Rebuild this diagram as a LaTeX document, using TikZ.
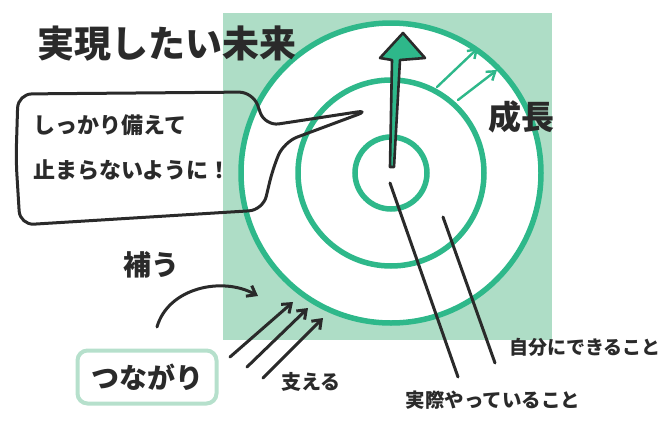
\documentclass[tikz,border=0pt]{standalone}
\usepackage{fontspec}
\newfontfamily\jp{Noto Sans CJK JP}
\usetikzlibrary{arrows.meta}
\definecolor{mint}{HTML}{AEDDC6}
\definecolor{ring}{HTML}{2EB88A}
\definecolor{ink}{HTML}{2A2A2A}
\definecolor{boxg}{HTML}{B6E0CC}
\tikzset{
  ringline/.style={draw=ring, line width=5.5pt},
  inkline/.style={draw=ink, line width=3pt, line cap=round, line join=round},
  barb/.style={inkline, -{Straight Barb[length=8pt, width=12pt]}},
  greenarrow/.style={draw=ring, line width=2.4pt, line cap=round, -{Straight Barb[length=8pt, width=11pt]}},
  lbl/.style={text=ink, inner sep=0pt},
}
\begin{document}
\begin{tikzpicture}[x=1pt, y=-1pt]
\useasboundingbox (0,0) rectangle (662,421);
% green square
\fill[mint] (223,13) rectangle (552,340);
% circles
\coordinate (c) at (391,173);
\fill[white] (c) circle[radius=150pt];
\draw[ringline] (c) circle[radius=150pt];
\draw[ringline] (c) circle[radius=93pt];
\draw[ringline] (c) circle[radius=36pt];

% title
\node[lbl, font=\jp\bfseries\fontsize{37}{40}\selectfont] (title) at (167,44) {実現したい未来};

% speech bubble
\draw[inkline, rounded corners=14pt]
  (16,160) -- (18,94) -- (253,92) -- (265,126) -- (370,110) -- (284,142)
  -- (273,168) -- (263,210) -- (20,225) -- cycle;
\node[lbl, anchor=west, font=\jp\bfseries\fontsize{22}{24}\selectfont] (b1) at (33,125) {しっかり備えて};
\node[lbl, anchor=west, font=\jp\bfseries\fontsize{22}{24}\selectfont] (b2) at (33,170) {止まらないように！};

% main arrow
\filldraw[fill=ring, draw=ink, line width=2.6pt, line join=round]
  (390,167) -- (392,60) -- (380,58) -- (403,33) -- (425,58) -- (400,60) -- (394,167) -- cycle;

% growth arrows
\coordinate (g1s) at (437,87);
\coordinate (g1e) at (478,48);
\coordinate (g2s) at (458,100);
\coordinate (g2e) at (497,70);
\draw[greenarrow] (g1s) -- (g1e);
\draw[greenarrow] (g2s) -- (g2e);
\node[lbl, font=\jp\bfseries\fontsize{33}{35}\selectfont] (grow) at (521,117) {成長};

% labels with lines
\node[lbl, font=\jp\bfseries\fontsize{19.5}{21}\selectfont] (jissai) at (493,400) {実際やっていること};
\node[lbl, font=\jp\bfseries\fontsize{19}{21}\selectfont] (jibun) at (585,347) {自分にできること};
\coordinate (l1s) at (390,183);
\coordinate (l1e) at (458,377);
\coordinate (l2s) at (443,217);
\coordinate (l2e) at (495,363);
\draw[inkline] (l1s) -- (l1e);
\draw[inkline] (l2s) -- (l2e);

% tsunagari
\node[lbl, draw=boxg, line width=4pt, rounded corners=10pt, minimum width=139pt, minimum height=53pt,
  font=\jp\bfseries\fontsize{28}{30}\selectfont] (tsuna) at (147,377) {つながり};
\node[lbl, font=\jp\bfseries\fontsize{28}{30}\selectfont] (oginau) at (151,265) {補う};
\node[lbl, font=\jp\bfseries\fontsize{20}{22}\selectfont] (sasaeru) at (311,382) {支える};

\coordinate (cs) at (157,327);
\coordinate (ce) at (258,296);
\draw[barb] (cs) .. controls (168,288) and (222,276) .. (ce);

\coordinate (a1s) at (230,357);
\coordinate (a1e) at (293,302);
\coordinate (a2s) at (247,367);
\coordinate (a2e) at (308,308);
\coordinate (a3s) at (263,378);
\coordinate (a3e) at (323,318);
\draw[barb] (a1s) -- (a1e);
\draw[barb] (a2s) -- (a2e);
\draw[barb] (a3s) -- (a3e);
\end{tikzpicture}
\end{document}
